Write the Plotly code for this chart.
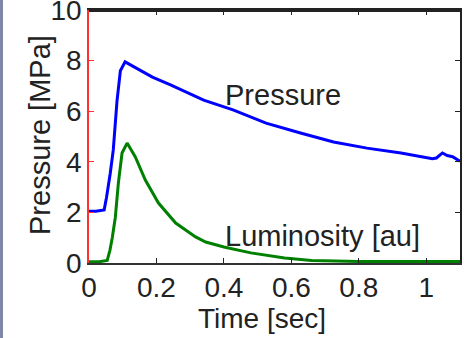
import plotly.graph_objects as go

# Pressure trace (MPa)
t_pressure = [0.0, 0.02, 0.045, 0.052, 0.063, 0.072, 0.083, 0.093, 0.107, 0.14, 0.188,
              0.24, 0.287, 0.34, 0.427, 0.525, 0.627, 0.725, 0.824, 0.925, 1.018,
              1.03, 1.048, 1.062, 1.078, 1.1]
pressure = [2.05, 2.05, 2.1, 2.6, 3.55, 4.47, 6.4, 7.6, 7.95, 7.7, 7.35,
            7.05, 6.76, 6.44, 6.05, 5.53, 5.14, 4.78, 4.54, 4.35, 4.12,
            4.15, 4.35, 4.25, 4.2, 4.02]

# Luminosity trace (au)
t_lum = [0.0, 0.03, 0.054, 0.062, 0.069, 0.078, 0.087, 0.098, 0.113, 0.137, 0.167,
         0.206, 0.257, 0.316, 0.346, 0.40, 0.48, 0.58, 0.66, 0.8, 1.0, 1.1]
luminosity = [0.05, 0.05, 0.1, 0.5, 1.0, 1.8, 3.15, 4.35, 4.74, 4.2, 3.28,
              2.37, 1.58, 1.03, 0.83, 0.63, 0.4, 0.2, 0.1, 0.06, 0.06, 0.06]

x_ticks = [0, 0.2, 0.4, 0.6, 0.8, 1.0]
x_ticklabels = ["0", "0.2", "0.4", "0.6", "0.8", "1"]
y_ticks = [0, 2, 4, 6, 8, 10]

FONT = "Liberation Sans, Arial, sans-serif"
TXT = "#222222"

fig = go.Figure()
fig.add_trace(go.Scatter(x=t_pressure, y=pressure, mode="lines",
                         line=dict(color="#0000ff", width=3), showlegend=False))
fig.add_trace(go.Scatter(x=t_lum, y=luminosity, mode="lines",
                         line=dict(color="#008000", width=3), showlegend=False))
# invisible trace carrying the top / right frame axes
fig.add_trace(go.Scatter(x=[0, 1.1], y=[0, 10], xaxis="x2", yaxis="y2", mode="lines",
                         line=dict(width=0), hoverinfo="skip", showlegend=False))

fig.add_annotation(x=0.397, y=6.65, text="Pressure", showarrow=False,
                   xanchor="left", yanchor="middle",
                   font=dict(family=FONT, size=29, color=TXT))
fig.add_annotation(x=0.397, y=1.05, text="Luminosity [au]", showarrow=False,
                   xanchor="left", yanchor="middle",
                   font=dict(family=FONT, size=29, color=TXT))
# axis titles
fig.add_annotation(xref="paper", yref="paper", x=(262 - 89) / 371, y=-(318 - 263) / 253,
                   text="Time [sec]", showarrow=False, xanchor="center", yanchor="middle",
                   font=dict(family=FONT, size=28, color=TXT))
fig.add_annotation(xref="paper", yref="paper", x=(40 - 89) / 371, y=(263 - 135) / 253,
                   text="Pressure [MPa]", showarrow=False, textangle=-90,
                   xanchor="center", yanchor="middle",
                   font=dict(family=FONT, size=29, color=TXT))

fig.update_layout(
    width=464, height=338,
    margin=dict(l=89, r=4, t=10, b=75),
    paper_bgcolor="white", plot_bgcolor="white",
    font=dict(family=FONT, size=28, color=TXT),
    xaxis=dict(range=[0, 1.1], tickmode="array", tickvals=x_ticks, ticktext=x_ticklabels,
               ticks="inside", ticklen=5, tickcolor="#222222", ticklabelstandoff=-2,
               showline=True, linecolor="#333333", linewidth=2, mirror=False,
               showgrid=False, zeroline=False, automargin=False,
               tickfont=dict(size=28)),
    yaxis=dict(range=[0, 10], tickmode="array", tickvals=y_ticks,
               ticks="inside", ticklen=5, tickcolor="#ff3030",
               showline=True, linecolor="#ff3030", linewidth=1.5, mirror=False,
               showgrid=False, zeroline=False, ticklabeloverflow="allow", automargin=False,
               tickfont=dict(size=28)),
    xaxis2=dict(range=[0, 1.1], overlaying="x", side="top", anchor="y2", tickmode="array",
                tickvals=x_ticks, ticks="inside", ticklen=5, tickcolor="#222222",
                showline=True, linecolor="#222222", linewidth=2,
                showticklabels=False, showgrid=False, zeroline=False, automargin=False),
    yaxis2=dict(range=[0, 10], overlaying="y", side="right", anchor="x2", tickmode="array",
                tickvals=y_ticks, ticks="inside", ticklen=5, tickcolor="#222222",
                showline=True, linecolor="#222222", linewidth=2,
                showticklabels=False, showgrid=False, zeroline=False, automargin=False),
    shapes=[
        dict(type="rect", xref="paper", yref="paper",
             x0=-89/371, x1=-86/371, y0=-75/253, y1=10/253 + 1,
             fillcolor="#8088a8", line=dict(width=0), layer="above"),
        dict(type="line", xref="paper", yref="paper", x0=0, x1=1, y0=0.996, y1=0.996,
             line=dict(color="#222222", width=2), layer="above"),
    ],
)

fig.write_html("out.html")
